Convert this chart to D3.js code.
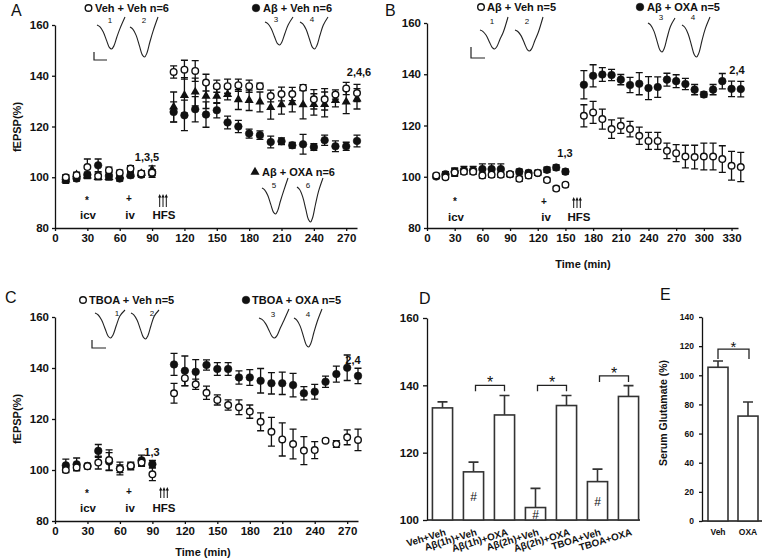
<!DOCTYPE html>
<html><head><meta charset="utf-8">
<script src="https://cdn.jsdelivr.net/npm/d3@7"></script>
<style>
body{margin:0;background:#fff}
text{font-family:"Liberation Sans",Arial,sans-serif}
</style>
</head><body>
<svg id="c" width="765" height="558"></svg>
<script>
// ---------------- DATA ----------------
const yTicksLine = [80,100,120,140,160];
const xTicksA = [0,30,60,90,120,150,180,210,240,270];
const xTicksB = [0,30,60,90,120,150,180,210,240,270,300,330];
const xTicksC = [0,30,60,90,120,150,180,210,240,270];

// Panel A
const timesA = [10,20,30,40,50,60,70,80,90,110,120,130,140,150,160,170,180,190,200,210,220,230,240,250,260,270,280];
const vehVehA = [100,100.8,104,100.5,102.8,101.8,103.4,101.5,101.8,141.5,142.4,141.9,137.3,135.9,135.9,136.3,135.9,135.9,132,132.8,132.8,135.3,130.7,130.7,132.6,135,133.2];
const vehVehAErr = [1,1,3.2,1.2,1.2,1,1.2,1,1,2.4,3.7,4.1,3.3,2.4,2.8,2.4,2.4,1.2,2.3,2.7,2.6,1.2,3.8,4.2,1.8,2.4,3.4];
const abVehA = [99.1,99.5,101,104.7,100.5,99.5,100.8,101,101.5,125.7,124.4,126.8,124.7,126.4,121.6,120,117.2,116.6,113.9,114.2,112.6,113,111.9,114.6,112.2,112.2,114.3];
const abVehAErr = [1.5,1,1,2.5,1.5,1,1,1,1.5,4,6,5,5,3,2.5,2.4,1.8,1.7,2.3,1.3,1.1,3.9,1.3,2,2.1,1.6,2.3];
const abOxaA = [99,101,100.5,100,100,100.5,101,101.5,103,127.7,132.3,133.6,132,132,132.7,130.6,130.3,129.7,127.5,128.6,129.4,128.6,128.7,128.7,130.3,129.7,130.9];
const abOxaAErr = [1,1,1,1,1,1,1,1,1.5,5.9,7,5.5,4.9,2.9,2.2,3.9,4,3.9,4.6,3.7,3.6,5.6,4.2,4.9,2.6,4.6,4];

// Panel B
const timesB = [10,20,30,40,50,60,70,80,90,100,110,120,130,140,150,170,180,190,200,210,220,230,240,250,260,270,280,290,300,310,320,330,340];
const abVehB = [100.5,99.8,101.7,102,102,100.5,100.8,100.8,101,99.2,100.5,101.5,98.7,95.4,96.9,123.8,125.1,122.5,118.6,119.9,118.6,116,114,114,110.1,109.2,107.9,107.7,107.9,107.9,106.9,104.3,103.8];
const abVehBErr = [0.8,0.8,1.5,1,1,1,1,1,0.8,1,1,1,0.8,0.8,0.8,4.3,4.3,3.9,3.6,3,3,3.4,3.3,3.3,3,3.3,4.4,4.6,5.2,5.2,5.2,5.6,5.7];
const abOxaB = [100.1,101,102,102.5,102.5,103,103,103,101,102,101.5,101.5,102.7,103.6,102,135.9,139.4,139.9,139.7,137.9,135.8,136.3,134.6,135,137.9,137.3,136.2,134,132.1,134,137.3,134.3,134.2];
const abOxaBErr = [0.8,1,1.5,1.5,1.5,2,2,2,1,1,1,1,1,1,1,5.5,4.3,2.7,2.2,2,3,4.3,4.5,4,2.5,2.5,2.2,2,1,2,3,3,3];

// Panel C
const timesC = [10,20,30,40,50,60,70,80,90,110,120,130,140,150,160,170,180,190,200,210,220,230,240,250,260,270,280];
const tboaVehC = [100,101,101.5,102.9,103.9,100.5,101.7,102.9,98.3,130.1,136,133.6,130.3,127.5,125.5,124.6,122.9,118.9,115,112,110.2,107.6,107.8,111.5,110.2,112.8,111.8];
const tboaVehCErr = [1,1,1,2.5,4,1.5,1,1.5,2.5,3.9,3,2,2.6,2,2,2.9,2.6,3.5,5.6,6.5,5.8,5.5,3.3,0.7,1.3,2.9,4.2];
const tboaOxaC = [101.8,102.2,101.6,107.5,103.3,100.6,101.6,103.8,102.3,141.4,138.9,138.5,141.2,139.6,139.6,136.3,136.3,135,134,134,133.3,130.1,130.7,134.6,137.6,140.1,136.9];
const tboaOxaCErr = [2.5,2.5,1,2.5,3.5,2.5,1.5,2,1.5,4.3,5.8,4.8,2,2.5,2.5,2.6,3.1,4.8,4.2,4.4,4.6,2.6,2.9,2.2,3.1,5,3];

// Panel D
const catsD = ["Veh+Veh","Aβ(1h)+Veh","Aβ(1h)+OXA","Aβ(2h)+Veh","Aβ(2h)+OXA","TBOA+Veh","TBOA+OXA"];
const valsD = [133.3,114.3,131.2,103.7,134,111.4,136.7];
const errD = [1.8,2.9,5.8,5.7,3,3.7,3.2];
const hashD = [1,3,5];
const sigD = [[1,2,140],[3,4,140],[5,6,142.8]];
const yTicksD = [100,120,140,160];

// Panel E
const catsE = ["Veh","OXA"];
const valsE = [105.5,72];
const errE = [4.3,9.7];
const sigE = [[0,1,118]];
const yTicksE = [0,20,40,60,80,100,120,140];

// ---------------- DRAWING ----------------
const svg = d3.select("#c");
const INK = "#111";

function txt(x, y, s, o = {}) {
  return svg.append("text").attr("x", x).attr("y", y).text(s)
    .attr("font-size", o.size || 11).attr("font-weight", o.weight || "bold")
    .attr("text-anchor", o.anchor || "start").attr("fill", INK);
}
function styleAxis(g, size) {
  g.attr("font-family", '"Liberation Sans",Arial,sans-serif').attr("font-size", size).attr("font-weight", "bold");
  g.selectAll("path,line").attr("stroke", INK).attr("stroke-width", 1.3);
  g.selectAll("text").attr("fill", INK);
}

// waveform template: x fraction of width, y fraction of depth (last point replaced by the rise)
const traceShape = [[0,0],[0.1,0.07],[0.22,0.28],[0.34,0.64],[0.44,0.93],[0.52,1],[0.6,0.88],[0.71,0.5],[0.83,0.12],[1,null]];
function trace(x0, y0, w, depth, rise, label, lx, ly) {
  const pts = traceShape.map(p => [x0 + p[0]*w, y0 + (p[1] === null ? -rise : p[1]*depth)]);
  svg.append("path").attr("d", d3.line().curve(d3.curveCatmullRom.alpha(0.5))(pts))
    .attr("fill","none").attr("stroke","#222").attr("stroke-width",1.1);
  txt(lx, ly, label, {size: 8, weight: "normal", anchor: "middle"});
}
function scaleBar(x, y1, y2, x2) {
  svg.append("path").attr("d", `M${x},${y1}V${y2}H${x2}`).attr("fill","none").attr("stroke","#222").attr("stroke-width",1.2);
}
function hfs(cx, yTop, yBot) {
  [-3.3, 0, 3.3].forEach(dx => {
    const x = cx + dx;
    svg.append("line").attr("x1",x).attr("x2",x).attr("y1",yTop+2).attr("y2",yBot).attr("stroke",INK).attr("stroke-width",1);
    svg.append("path").attr("d",`M${x-1.6},${yTop+3.5}L${x},${yTop}L${x+1.6},${yTop+3.5}Z`).attr("fill",INK);
  });
}
function markerLegend(kind, cx, cy) {
  if (kind === "tri") svg.append("path").attr("d", d3.symbol(d3.symbolTriangle, 36)()).attr("transform",`translate(${cx},${cy})`).attr("fill",INK);
  else svg.append("circle").attr("cx",cx).attr("cy",cy).attr("r", kind==="open"?3.3:3.8)
    .attr("fill", kind==="open"?"#fff":INK).attr("stroke",INK).attr("stroke-width", kind==="open"?1.4:0.6);
}

function linePanel(x, y, xTicks, times, series) {
  const g = svg.append("g");
  const ay = g.append("g").attr("transform",`translate(${x(0)},0)`)
    .call(d3.axisLeft(y).tickValues(yTicksLine).tickSize(3).tickSizeOuter(0).tickPadding(3));
  styleAxis(ay, 11.5);
  const ax = g.append("g").attr("transform",`translate(0,${y(80)})`)
    .call(d3.axisBottom(x).tickValues(xTicks).tickSize(3).tickSizeOuter(0).tickPadding(3));
  styleAxis(ax, 11.5);
  const all = series.map(s => ({kind: s.kind, pts: times.map((t,i)=>({t, v:s.vals[i], e:s.errs[i]}))}));
  all.forEach(s => {
    g.append("g").selectAll("path").data(s.pts).join("path")
      .attr("d", d => { const cx=x(d.t), y1=y(d.v+d.e), y2=y(d.v-d.e);
        return `M${cx},${y1}V${y2}M${cx-3.5},${y1}h7M${cx-3.5},${y2}h7`; })
      .attr("stroke",INK).attr("stroke-width",1.3).attr("fill","none");
  });
  all.forEach(s => {
    const mg = g.append("g");
    if (s.kind === "tri") {
      mg.selectAll("path").data(s.pts).join("path").attr("d", d3.symbol(d3.symbolTriangle, 36)())
        .attr("transform", d=>`translate(${x(d.t)},${y(d.v)})`).attr("fill",INK);
    } else {
      mg.selectAll("circle").data(s.pts).join("circle").attr("cx",d=>x(d.t)).attr("cy",d=>y(d.v))
        .attr("r", s.kind==="open"?3.3:3.8).attr("fill", s.kind==="open"?"#fff":INK)
        .attr("stroke",INK).attr("stroke-width", s.kind==="open"?1.4:0.6);
    }
  });
}

// ---- Panel A ----
const xA = d3.scaleLinear().domain([0,280]).range([55,357]);
const yA = d3.scaleLinear().domain([80,160]).range([228,25]);
linePanel(xA, yA, xTicksA, timesA, [
  {kind:"tri", vals:abOxaA, errs:abOxaAErr},
  {kind:"filled", vals:abVehA, errs:abVehAErr},
  {kind:"open", vals:vehVehA, errs:vehVehAErr}
]);
txt(11, 16, "A", {size:16, weight:"normal"});
svg.append("text").attr("transform","translate(21,127) rotate(-90)").attr("text-anchor","middle")
  .attr("font-size",11).attr("font-weight","bold").attr("fill",INK).text("fEPSP(%)");
markerLegend("open", 88.5, 8); txt(95, 12, "Veh + Veh n=6");
markerLegend("filled", 256, 8); txt(263, 12, "Aβ + Veh n=6");
markerLegend("tri", 255, 172); txt(262, 176, "Aβ + OXA n=6");
trace(97,25,28,24,8,"1",110,23);
trace(130,27,28,30,10,"2",144,23);
trace(265,22,28,23,5,"3",276,22);
trace(300,22,28,27,5,"4",312,22);
trace(262,188,26,26,10,"5",274,188);
trace(297,187,26,35,9,"6",308,188);
scaleBar(94,52,60,107);
txt(147,161,"1,3,5",{anchor:"middle"});
txt(359,76,"2,4,6",{anchor:"middle"});
txt(87,204,"*",{anchor:"middle",size:10});
txt(129,202,"+",{anchor:"middle",size:10});
txt(88,219,"icv",{anchor:"middle",size:11.5});
txt(130,219,"iv",{anchor:"middle",size:11.5});
txt(164,219,"HFS",{anchor:"middle",size:11.5});
hfs(163,194,207);

// ---- Panel B ----
const xB = d3.scaleLinear().domain([0,337]).range([427,738]);
const yB = d3.scaleLinear().domain([80,160]).range([228,23]);
linePanel(xB, yB, xTicksB, timesB, [
  {kind:"filled", vals:abOxaB, errs:abOxaBErr},
  {kind:"open", vals:abVehB, errs:abVehBErr}
]);
txt(385, 16, "B", {size:16, weight:"normal"});
markerLegend("open", 481, 7); txt(487, 11, "Aβ + Veh n=5");
markerLegend("filled", 640, 7); txt(647, 11, "Aβ + OXA n=5");
trace(480,30,28,19,13,"1",492,24);
trace(515,30,28,21,13,"2",527,24);
trace(648,23,27,29,5,"3",661,20);
trace(682,25,28,32,8,"4",693,20);
scaleBar(471,47,58,485);
txt(565,157,"1,3",{anchor:"middle"});
txt(737,74,"2,4",{anchor:"middle"});
txt(455,205,"*",{anchor:"middle",size:10});
txt(544,205,"+",{anchor:"middle",size:10});
txt(456,221,"icv",{anchor:"middle",size:11.5});
txt(546,221,"iv",{anchor:"middle",size:11.5});
txt(579,221,"HFS",{anchor:"middle",size:11.5});
hfs(577,197,208);
txt(583,268,"Time (min)",{anchor:"middle"});

// ---- Panel C ----
const xC = d3.scaleLinear().domain([0,280]).range([55,358]);
const yC = d3.scaleLinear().domain([80,160]).range([521,317]);
linePanel(xC, yC, xTicksC, timesC, [
  {kind:"filled", vals:tboaOxaC, errs:tboaOxaCErr},
  {kind:"open", vals:tboaVehC, errs:tboaVehCErr}
]);
txt(5, 303, "C", {size:16, weight:"normal"});
svg.append("text").attr("transform","translate(21,419) rotate(-90)").attr("text-anchor","middle")
  .attr("font-size",11).attr("font-weight","bold").attr("fill",INK).text("fEPSP(%)");
markerLegend("open", 83, 300); txt(89, 304, "TBOA + Veh n=5");
markerLegend("filled", 246, 300); txt(252, 304, "TBOA + OXA n=5");
trace(95,313,30,25,3,"1",117,316);
trace(131,313,28,26,3,"2",152,316);
trace(259,318,30,20,9,"3",273,317);
trace(294,318,28,29,9,"4",308,317);
scaleBar(92,340,348,106);
txt(152,456,"1,3",{anchor:"middle"});
txt(353,364,"2,4",{anchor:"middle"});
txt(87,497,"*",{anchor:"middle",size:10});
txt(129,495,"+",{anchor:"middle",size:10});
txt(88,512,"icv",{anchor:"middle",size:11.5});
txt(130,512,"iv",{anchor:"middle",size:11.5});
txt(164,512,"HFS",{anchor:"middle",size:11.5});
hfs(164,487,498);
txt(203,556,"Time (min)",{anchor:"middle"});

// ---- Panel D ----
const xD = d3.scaleBand().domain(catsD).range([427,644]).paddingInner(0.35).paddingOuter(0.175);
const yD = d3.scaleLinear().domain([100,160]).range([520,318]);
{
  const g = svg.append("g");
  const ay = g.append("g").attr("transform","translate(427,0)")
    .call(d3.axisLeft(yD).tickValues(yTicksD).tickSize(4).tickSizeOuter(0).tickPadding(4));
  styleAxis(ay, 11.5);
  g.append("line").attr("x1",427).attr("x2",640).attr("y1",520).attr("y2",520).attr("stroke",INK).attr("stroke-width",1.3);
  const cx = c => xD(c) + xD.bandwidth()/2;
  catsD.forEach((c,i) => {
    const top = yD(valsD[i]), et = yD(valsD[i]+errD[i]);
    g.append("path").attr("d",`M${cx(c)},${top}V${et}M${cx(c)-5},${et}h10`).attr("stroke","#333").attr("stroke-width",1.6).attr("fill","none");
    g.append("rect").attr("x",xD(c)).attr("y",top).attr("width",xD.bandwidth()).attr("height",520-top)
      .attr("fill","#fff").attr("stroke","#333").attr("stroke-width",1.6);
    g.append("text").attr("transform",`translate(${cx(c)+4},535) rotate(-17)`).attr("text-anchor","end")
      .attr("font-size",9.8).attr("font-weight","bold").attr("fill",INK).text(c);
  });
  hashD.forEach(i => {
    g.append("text").attr("x",cx(catsD[i])).attr("y",(yD(valsD[i])+520)/2+5).attr("text-anchor","middle")
      .attr("font-size",12).attr("fill",INK).text("#");
  });
  sigD.forEach(([a,b,lvl]) => {
    const x1 = cx(catsD[a])+2, x2 = cx(catsD[b]), yy = yD(lvl);
    g.append("path").attr("d",`M${x1},${yy+6}V${yy}H${x2}V${yy+6}`).attr("fill","none").attr("stroke","#222").attr("stroke-width",1.3);
    g.append("text").attr("x",(x1+x2)/2).attr("y",yy+3).attr("text-anchor","middle").attr("font-size",16).attr("fill",INK).text("*");
  });
}
txt(419, 304, "D", {size:16, weight:"normal"});

// ---- Panel E ----
const xE = d3.scaleBand().domain(catsE).range([703,763]).paddingInner(1/3).paddingOuter(1/6);
const yE = d3.scaleLinear().domain([0,140]).range([521,317]);
{
  const g = svg.append("g");
  const ay = g.append("g").attr("transform","translate(702,0)")
    .call(d3.axisLeft(yE).tickValues(yTicksE).tickSize(3).tickSizeOuter(0).tickPadding(5));
  styleAxis(ay, 8.5);
  g.append("line").attr("x1",702).attr("x2",762).attr("y1",521).attr("y2",521).attr("stroke",INK).attr("stroke-width",1.3);
  const cx = c => xE(c) + xE.bandwidth()/2;
  catsE.forEach((c,i) => {
    const top = yE(valsE[i]), et = yE(valsE[i]+errE[i]);
    g.append("path").attr("d",`M${cx(c)},${top}V${et}M${cx(c)-5},${et}h10`).attr("stroke","#333").attr("stroke-width",1.6).attr("fill","none");
    g.append("rect").attr("x",xE(c)).attr("y",top).attr("width",xE.bandwidth()).attr("height",521-top)
      .attr("fill","#fff").attr("stroke","#333").attr("stroke-width",1.6);
    g.append("text").attr("x",cx(c)).attr("y",535).attr("text-anchor","middle").attr("font-size",8.5).attr("font-weight","bold").attr("fill",INK).text(c);
  });
  sigE.forEach(([a,b,lvl]) => {
    const x1 = cx(catsE[a]), x2 = cx(catsE[b])+1, yy = yE(lvl);
    g.append("path").attr("d",`M${x1},${yy+10}V${yy}H${x2}V${yy+10}`).attr("fill","none").attr("stroke","#222").attr("stroke-width",1.3);
    g.append("text").attr("x",(x1+x2)/2).attr("y",yy+3).attr("text-anchor","middle").attr("font-size",15).attr("fill",INK).text("*");
  });
  svg.append("text").attr("transform","translate(667,413) rotate(-90)").attr("text-anchor","middle")
    .attr("font-size",10.5).attr("font-weight","bold").attr("fill",INK).text("Serum Glutamate (%)");
}
txt(660, 300, "E", {size:16, weight:"normal"});
</script>
</body></html>
